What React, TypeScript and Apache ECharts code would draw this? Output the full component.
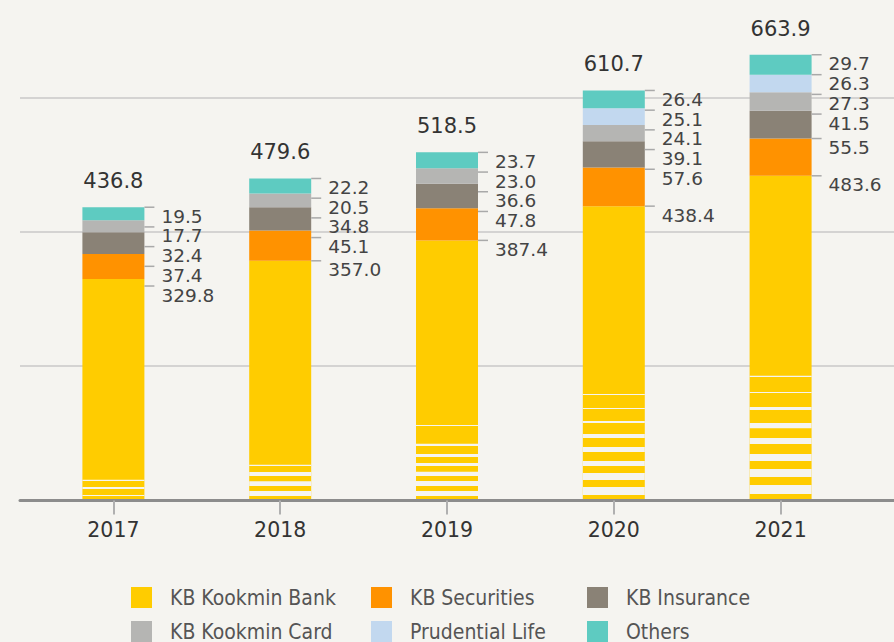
import React, { useEffect, useRef } from "react";
import * as echarts from "echarts";

// ---------- data ----------
const years = ["2017", "2018", "2019", "2020", "2021"];
const bank = [329.8, 357.0, 387.4, 438.4, 483.6];
const securities = [37.4, 45.1, 47.8, 57.6, 55.5];
const insurance = [32.4, 34.8, 36.6, 39.1, 41.5];
const card = [17.7, 20.5, 23.0, 24.1, 27.3];
const prudential: (number | null)[] = [null, null, null, 25.1, 26.3];
const others = [19.5, 22.2, 23.7, 26.4, 29.7];
const totals = [436.8, 479.6, 518.5, 610.7, 663.9];
const seriesNames = [
  "KB Kookmin Bank",
  "KB Securities",
  "KB Insurance",
  "KB Kookmin Card",
  "Prudential Life",
  "Others",
];

// ---------- style ----------
const COLORS = ["#ffcc00", "#ff9200", "#8a8276", "#b5b5b3", "#c2d8ef", "#5ecbc1"];
const BG = "#f5f4f0";
const BAR_W = 62;
const NUM_FONT = "'DejaVu Sans', 'Noto Sans', sans-serif";
const LEGEND_FONT = "'Liberation Sans Narrow', 'DejaVu Sans Condensed', 'Noto Sans', sans-serif";
// decorative stripes at the bottom of the bank bars, in value units [low, high]
const STRIPE_GAPS: number[][][] = [
  [[6.7, 8.2], [17.1, 20.1], [29.0, 31.0]],
  [[6.7, 14.1], [21.6, 28.6], [36.5, 42.4], [51.4, 53.3]],
  [[6.7, 14.1], [21.6, 29.0], [36.5, 42.9], [51.4, 55.8], [64.8, 69.2], [81.2, 84.6], [110.9, 112.4]],
  [[8.2, 20.1], [30.5, 41.0], [51.4, 58.8], [72.2, 79.7], [93.1, 99.0], [115.4, 118.4], [136.3, 137.8], [157.1, 158.6]],
  [[9.7, 23.1], [35.0, 46.9], [58.8, 69.2], [84.1, 93.1], [107.7, 115.4], [134.8, 139.2], [160.1, 161.6], [183.9, 185.9]],
];

const stacks = [bank, securities, insurance, card, prudential, others];

export default function App() {
  const ref = useRef<HTMLDivElement>(null);
  useEffect(() => {
    if (!ref.current) return;
    const chart = echarts.init(ref.current, undefined, { renderer: "svg" });

    const barSeries = stacks.map((arr, k) => ({
      name: seriesNames[k],
      type: "bar",
      stack: "total",
      xAxisIndex: 1,
      yAxisIndex: 1,
      barWidth: BAR_W,
      itemStyle: { color: COLORS[k] },
      emphasis: { disabled: true },
      data: arr.map((v) => (v == null ? "-" : v)),
      z: 2,
    }));

    const stripeSeries = {
      type: "custom",
      xAxisIndex: 1,
      yAxisIndex: 1,
      z: 3,
      silent: true,
      data: years.map((_, i) => [i, 0]),
      encode: { x: 0, y: 1 },
      renderItem: (params: any, api: any) => {
        const i = params.dataIndex;
        const cx = api.coord([i, 0])[0];
        const children = STRIPE_GAPS[i].map(([lo, hi]) => {
          const yTop = api.coord([i, hi])[1];
          const yBot = api.coord([i, lo])[1];
          return {
            type: "rect",
            shape: { x: cx - BAR_W / 2, y: yTop, width: BAR_W, height: yBot - yTop },
            style: { fill: BG },
          };
        });
        return { type: "group", children };
      },
    };

    const labelSeries = {
      type: "custom",
      xAxisIndex: 1,
      yAxisIndex: 1,
      z: 4,
      silent: true,
      data: years.map((_, i) => [i, totals[i]]),
      encode: { x: 0, y: 1 },
      renderItem: (params: any, api: any) => {
        const i = params.dataIndex;
        const segs: { v: number; cum: number }[] = [];
        let cum = 0;
        for (let k = 0; k < stacks.length; k++) {
          const v = stacks[k][i];
          if (v == null) continue;
          cum += v;
          segs.push({ v, cum });
        }
        const cx = api.coord([i, 0])[0];
        const xr = cx + BAR_W / 2;
        const children: any[] = [];
        let prev = -Infinity;
        for (let k = segs.length - 1; k >= 0; k--) {
          const y0 = api.coord([i, segs[k].cum])[1];
          const y = Math.max(y0, prev + 19.7);
          prev = y;
          children.push({
            type: "line",
            shape: { x1: xr, y1: y, x2: xr + 10, y2: y },
            style: { stroke: "#a9a9a9", lineWidth: 1.5 },
          });
          children.push({
            type: "text",
            x: xr + 17,
            y: y + 9,
            style: {
              text: segs[k].v.toFixed(1),
              fill: "#444",
              fontSize: 18.5,
              fontFamily: NUM_FONT,
              align: "left",
              verticalAlign: "middle",
            },
          });
        }
        const topY = api.coord([i, totals[i]])[1];
        children.push({
          type: "text",
          x: cx,
          y: topY - 26,
          style: {
            text: totals[i].toFixed(1),
            fill: "#333",
            fontSize: 21,
            fontFamily: NUM_FONT,
            align: "center",
            verticalAlign: "middle",
          },
        });
        return { type: "group", children };
      },
    };

    const legendBase = {
      orient: "vertical",
      top: 587,
      padding: 0,
      itemWidth: 21,
      itemHeight: 21,
      itemGap: 13,
      icon: "rect",
      selectedMode: false,
      textStyle: {
        color: "#555",
        fontSize: 21,
        fontFamily: LEGEND_FONT,
        padding: [0, 0, 0, 13],
      },
    };

    chart.setOption({
      animation: false,
      backgroundColor: BG,
      grid: [
        { left: 20, right: 0, top: 30.5, bottom: 141.5 },
        { left: 30, right: 30, top: 30.5, bottom: 141.5 },
      ],
      xAxis: [
        {
          type: "value",
          gridIndex: 0,
          min: 0,
          max: 1,
          z: 5,
          axisLine: { show: true, lineStyle: { color: "#8c8c8c", width: 3 } },
          axisTick: { show: false },
          axisLabel: { show: false },
          splitLine: { show: false },
        },
        {
          type: "category",
          gridIndex: 1,
          data: years,
          z: 6,
          axisLine: { show: true, lineStyle: { color: "rgba(0,0,0,0)", width: 0 } },
          axisTick: { show: true, alignWithLabel: true, length: 14, lineStyle: { color: "#b0b0b0", width: 2 } },
          axisLabel: { fontSize: 20.5, color: "#333", fontFamily: NUM_FONT, margin: 19 },
          splitLine: { show: false },
        },
      ],
      yAxis: [
        {
          type: "value",
          gridIndex: 0,
          min: 0,
          max: 700,
          interval: 200,
          axisLine: { show: false },
          axisTick: { show: false },
          axisLabel: { show: false },
          splitLine: { show: true, showMaxLine: false, lineStyle: { color: "#c8c8c8", width: 1.5 } },
        },
        {
          type: "value",
          gridIndex: 1,
          min: 0,
          max: 700,
          interval: 200,
          axisLine: { show: false },
          axisTick: { show: false },
          axisLabel: { show: false },
          splitLine: { show: false },
        },
      ],
      legend: [
        { ...legendBase, left: 131, data: [seriesNames[0], seriesNames[3]] },
        { ...legendBase, left: 371, data: [seriesNames[1], seriesNames[4]] },
        { ...legendBase, left: 587, data: [seriesNames[2], seriesNames[5]] },
      ],
      series: [...barSeries, stripeSeries, labelSeries],
    });

    return () => chart.dispose();
  }, []);

  return (
    <div
      ref={ref}
      style={{ position: "fixed", left: 0, top: 0, width: 894, height: 642 }}
    />
  );
}
